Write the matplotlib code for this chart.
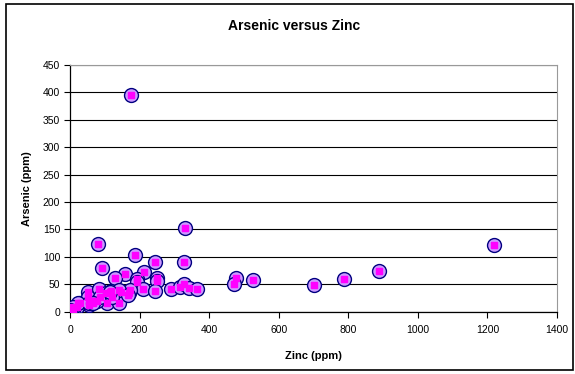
import matplotlib
matplotlib.use("Agg")
import matplotlib.pyplot as plt
from matplotlib.patches import Rectangle

plt.rcParams['font.family'] = ['Liberation Sans', 'DejaVu Sans']

# Zinc (ppm) and Arsenic (ppm)
zinc = [175, 330, 81, 187, 245, 328, 93, 213, 159, 129, 192, 249, 194, 249,
        477, 471, 525, 53, 84, 117, 146, 170, 211, 245, 290, 316, 328, 343,
        364, 105, 142, 70, 55, 29, 19, 5, 8, 103, 53, 77, 172, 140, 168, 24,
        10, 0, 56, 86, 120, 67, 115, 700, 787, 887, 1220]
arsenic = [395, 152, 123, 103, 91, 91, 80, 73, 68, 61, 59, 62, 54, 56,
           61, 50, 57, 36, 41, 38, 36, 34, 41, 38, 41, 44, 50, 42,
           41, 15, 15, 20, 11, 16, 9, 4, 2, 33, 27, 20, 40, 40, 31, 15,
           8, 2, 15, 27, 27, 15, 36, 48, 59, 74, 121]

x_ticks = list(range(0, 1401, 200))
y_ticks = list(range(0, 451, 50))

fig = plt.figure(figsize=(5.75, 3.74), dpi=100)
ax = fig.add_axes([70 / 575, 1 - 311.5 / 374, 487 / 575, 246.5 / 374])

# circle marker with a magenta square on top
ax.plot(zinc, arsenic, linestyle='none', marker='o', markersize=10,
        markerfacecolor='#cc99ff', markeredgecolor='#000080',
        markeredgewidth=1.0, zorder=3)
ax.plot(zinc, arsenic, linestyle='none', marker='s', markersize=4.5,
        markerfacecolor='#ff00ff', markeredgecolor='#ff00ff', zorder=4)

ax.set_xlim(0, 1400)
ax.set_ylim(0, 450)
ax.set_xticks(x_ticks)
ax.set_yticks(y_ticks)
ax.tick_params(labelsize=7.5, length=4, width=0.8, direction='out')
ax.tick_params(axis='x', pad=6)
ax.tick_params(axis='y', pad=3)
ax.yaxis.grid(True, color='black', linewidth=0.8)
ax.set_axisbelow(True)
for side in ['top', 'right']:
    ax.spines[side].set_color('#999999')
for side in ['left', 'bottom']:
    ax.spines[side].set_linewidth(0.9)

ax.set_xlabel('Zinc (ppm)', fontsize=8, fontweight='bold', labelpad=11)
ax.set_ylabel('Arsenic (ppm)', fontsize=8, fontweight='bold', labelpad=8)
fig.text(294 / 575, 1 - 25.5 / 374, 'Arsenic versus Zinc', fontsize=10,
         fontweight='bold', ha='center', va='center')

# chart border
fig.patches.append(Rectangle((6 / 575, 4 / 374), 567 / 575, 366 / 374,
                             transform=fig.transFigure, fill=False,
                             edgecolor='black', linewidth=1.2))

fig.savefig('out.png', dpi=100)
